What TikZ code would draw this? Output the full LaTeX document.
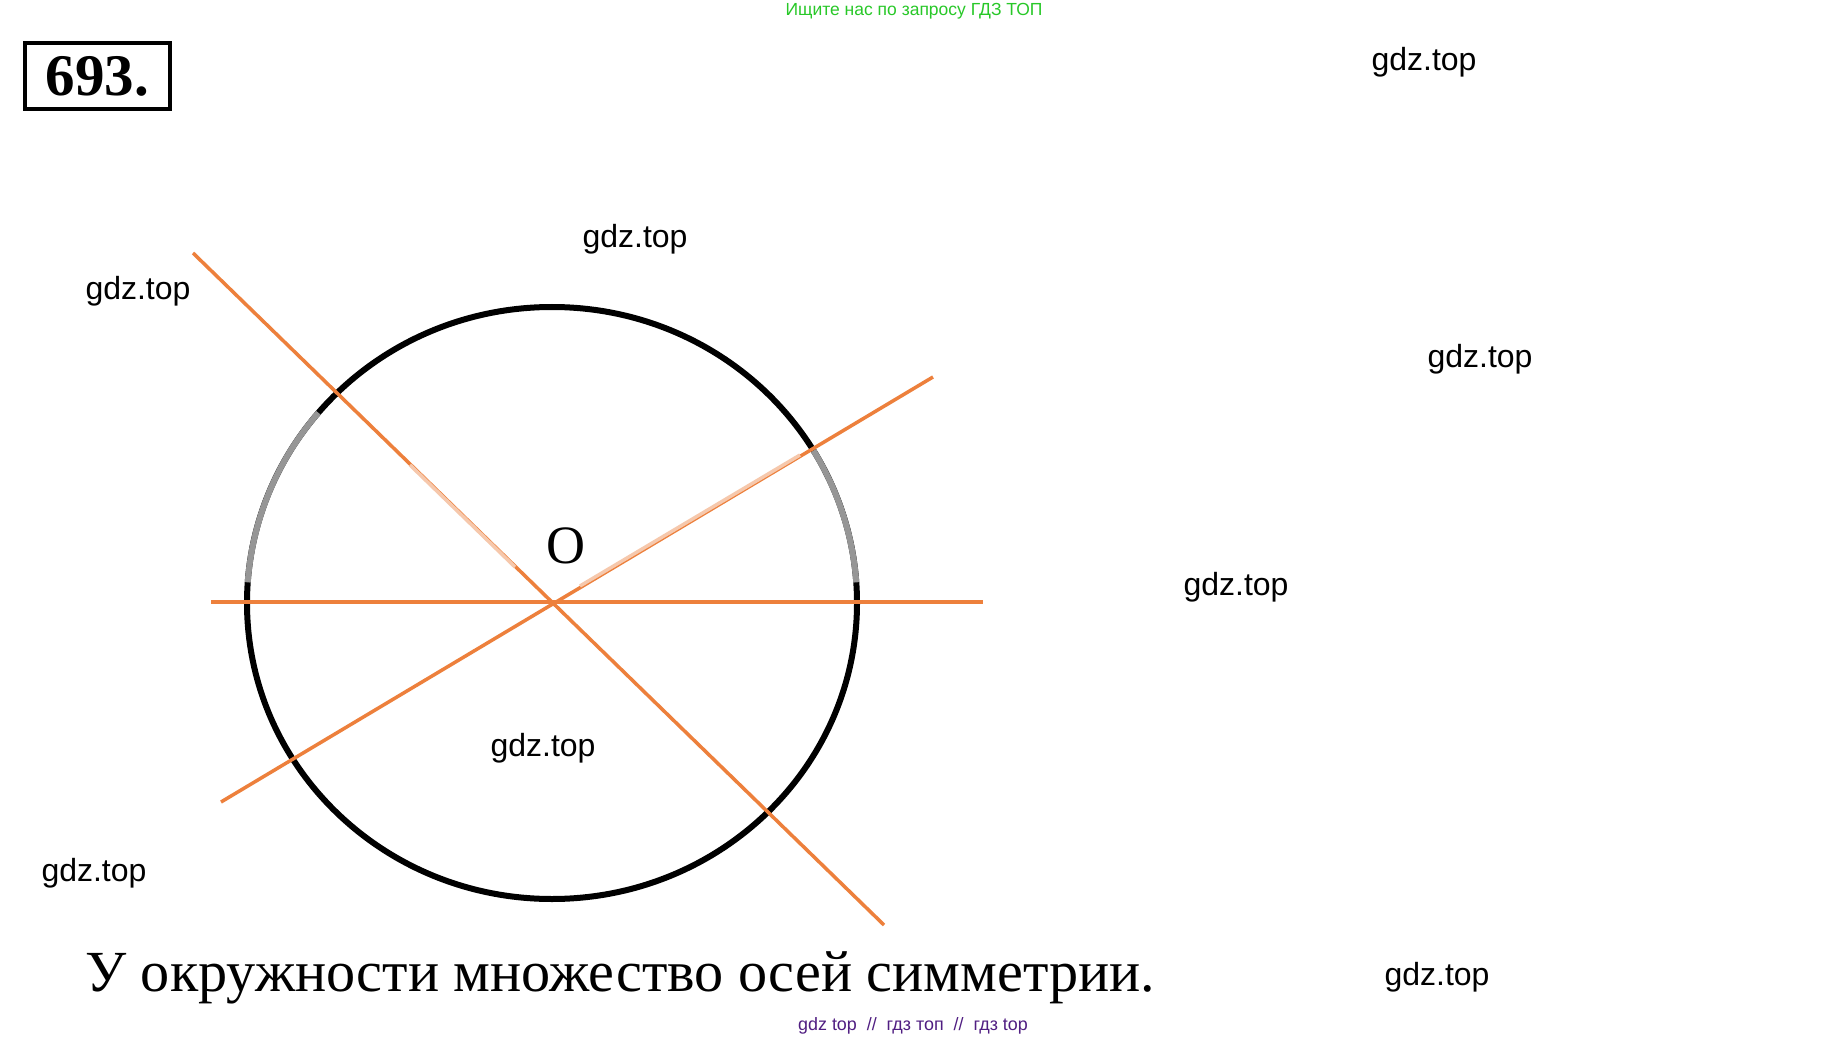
\documentclass[tikz,border=0pt]{standalone}
\usepackage{fontspec}
\setmainfont{Liberation Serif}
\newfontfamily\wmfont{Liberation Sans}
\usetikzlibrary{calc}
\definecolor{axis}{RGB}{237,128,60}
\definecolor{axislight}{RGB}{246,200,172}
\definecolor{wmgreen}{RGB}{40,200,40}
\definecolor{wmpurple}{RGB}{80,30,130}
\definecolor{fadegray}{RGB}{150,150,150}
\tikzset{
  wm/.style={font=\wmfont\fontsize{32}{38}\selectfont, inner sep=0pt},
  axisline/.style={draw=axis, line width=3.5pt},
  axisfade/.style={draw=axislight, line width=3.5pt},
  rim/.style={draw=black, line width=6pt},
  rimfade/.style={draw=fadegray, line width=6pt}
}
\begin{document}
\begin{tikzpicture}[x=1pt,y=-1pt]
\useasboundingbox[fill=white] (0,0) rectangle (1831,1040);

% header / footer watermarks
\node[font=\wmfont\fontsize{17.5}{20}\selectfont, text=wmgreen, inner sep=0pt] (top) at (914,11) {Ищите нас по запросу ГДЗ ТОП};
\node[font=\wmfont\fontsize{17.9}{21}\selectfont, text=wmpurple, inner sep=0pt] (bot) at (913,1026) {gdz top \ // \ гдз топ \ // \ гдз top};

% problem number
\node[draw=black, line width=4pt, font=\bfseries\fontsize{59}{64}\selectfont, minimum width=145pt, minimum height=66pt, inner sep=0pt] (num) at (97.5,76) {693.};

% circle
\coordinate (O) at (552,603);
\draw[rim] (O) ellipse [x radius=305pt, y radius=296pt];
\draw[rimfade] ($(O)+(140:305pt and 296pt)$) arc[start angle=140, end angle=176, x radius=305pt, y radius=296pt];
\draw[rimfade] ($(O)+(4:305pt and 296pt)$) arc[start angle=4, end angle=31, x radius=305pt, y radius=296pt];

% axes of symmetry
\coordinate (h1) at (211,602);
\coordinate (h2) at (983,602);
\coordinate (d1a) at (193,253);
\coordinate (d1b) at (884,925);
\coordinate (d2a) at (221,802);
\coordinate (d2b) at (933,377);
\draw[axisline] (h1) -- (h2);
\draw[axisline] (d1a) -- (d1b);
\draw[axisline] (d2a) -- (d2b);
\coordinate (f1a) at (410,465);
\coordinate (f1b) at (515,567);
\coordinate (f2a) at (580,586);
\coordinate (f2b) at (800,455);
\draw[axisfade] (f1a) -- (f1b);
\draw[axisfade] (f2a) -- (f2b);

\node[font=\fontsize{54}{60}\selectfont, inner sep=0pt] (lblO) at (566,546) {O};

% watermarks
\node[wm] (w1) at (1424,62) {gdz.top};
\node[wm] (w2) at (635,239) {gdz.top};
\node[wm] (w3) at (138,291) {gdz.top};
\node[wm] (w4) at (1480,359) {gdz.top};
\node[wm] (w5) at (1236,587) {gdz.top};
\node[wm] (w6) at (543,748) {gdz.top};
\node[wm] (w7) at (94,873) {gdz.top};
\node[wm] (w8) at (1437,977) {gdz.top};

% answer
\node[font=\fontsize{58.2}{64}\selectfont, inner sep=0pt, anchor=base west] (ans) at (85,991) {У окружности множество осей симметрии.};
\end{tikzpicture}
\end{document}
